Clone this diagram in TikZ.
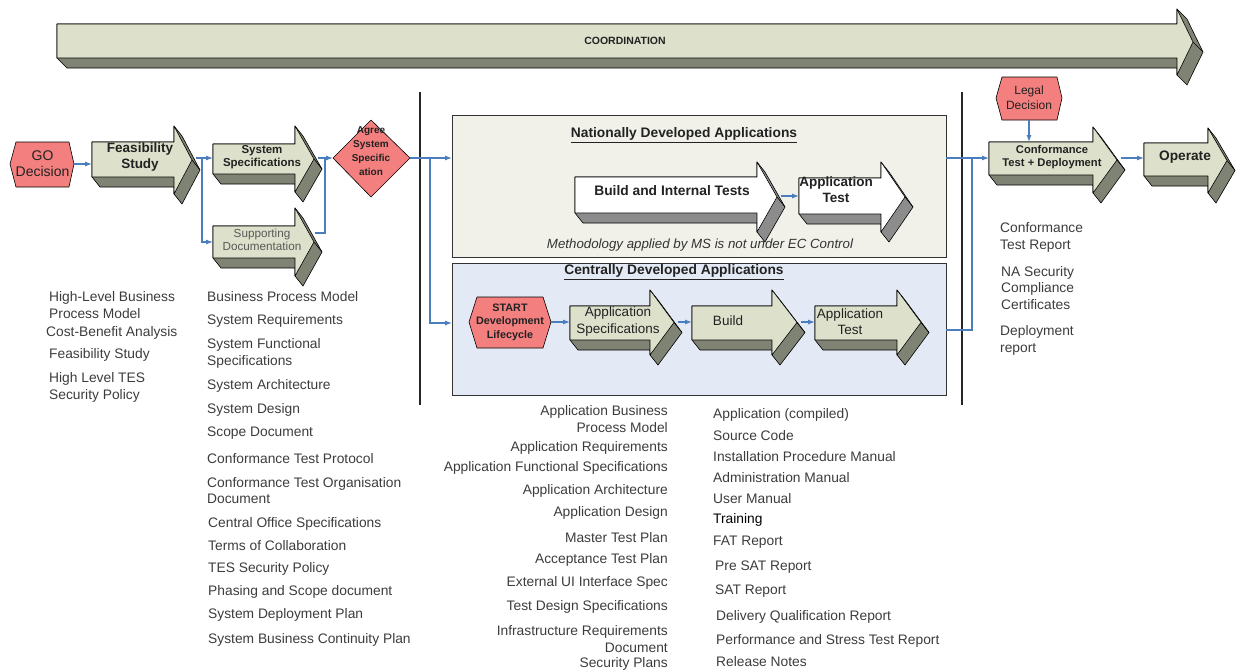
\documentclass[tikz,border=0pt]{standalone}
\usepackage{fontspec}
\setmainfont{Liberation Sans}
\usetikzlibrary{arrows.meta}
\definecolor{face}{HTML}{DDE1CB}
\definecolor{extr}{HTML}{7F8374}
\definecolor{extrgray}{HTML}{8C8C8C}
\definecolor{salmon}{HTML}{F47F7F}
\definecolor{connc}{HTML}{4A7EBF}
\definecolor{natfill}{HTML}{F1F1EA}
\definecolor{cenfill}{HTML}{E4EAF5}
\definecolor{listtext}{HTML}{3C3C3C}
\definecolor{inktext}{HTML}{222222}

\def\odx{8}
\def\ody{10}
\def\extcol{extr}
% #1 name, #2 x0, #3 yt, #4 yb, #5 xh, #6 yht, #7 xt, #8 yhb, #9 face colour
\newcommand{\tdarrow}[9]{%
  \pgfmathsetmacro{\tdym}{(#6+#8)/2}%
  \filldraw[fill=\extcol, draw=black, line width=0.6pt, line join=round]
    (#2,#3) -- (#5,#3) -- (#5,#6) -- ({#5+\odx},{#6+\ody}) -- ({#7+\odx},{\tdym+\ody})
    -- ({#5+\odx},{#8+\ody}) -- (#5,#8) -- (#5,{#4+\ody}) -- ({#2+\odx},{#4+\ody}) -- (#2,#4) -- cycle;
  \draw[line width=0.6pt] (#7,\tdym) -- ({#7+\odx},{\tdym+\ody});
  \filldraw[fill=#9, draw=black, line width=0.6pt, line join=round]
    (#2,#3) -- (#5,#3) -- (#5,#6) -- (#7,\tdym) -- (#5,#8) -- (#5,#4) -- (#2,#4) -- cycle;
  \coordinate (#1-in) at (#2,{(#3+#4)/2});
  \coordinate (#1-top) at ({(#2+#5)/2},#3);
  \coordinate (#1-tip) at ({#7+\odx/2},{\tdym-1});
}

\tikzset{
  conn/.style={draw=connc, line width=1.1pt, -{Latex[length=7pt,width=5pt]}},
  connplain/.style={draw=connc, line width=1.1pt},
  listL/.style={anchor=west, align=left, inner sep=0, text=listtext,
    font=\fontsize{13.8}{16.5}\selectfont},
  listR/.style={anchor=east, align=right, inner sep=0, text=listtext,
    font=\fontsize{13.8}{16.5}\selectfont},
  lbl/.style={align=center, inner sep=0, text=inktext},
  hexa/.style={fill=salmon, draw=black, line width=0.6pt, line join=round},
  divider/.style={draw=black!85, line width=1.8pt},
}

\begin{document}
\begin{tikzpicture}[x=1pt,y=-1pt]
\useasboundingbox (0,0) rectangle (1240,672);

% ---- Coordination arrow
\def\odx{10}\def\ody{10}
\tdarrow{coord}{57}{24}{58}{1177}{9}{1193}{75}{face}
\node[lbl, font=\fontsize{10.5}{12}\selectfont\bfseries] (coordtxt) at (625,41) {COORDINATION};
\def\odx{8}\def\ody{10}

% ---- dividers
\coordinate (dl1) at (420,92); \coordinate (dl2) at (420,405);
\coordinate (dr1) at (962,92); \coordinate (dr2) at (962,405);
\draw[divider] (dl1) -- (dl2);
\draw[divider] (dr1) -- (dr2);

% ---- GO decision
\filldraw[hexa] (10,164) -- (16,142) -- (69,142) -- (74,164) -- (69,187) -- (16,187) -- cycle;
\node[lbl, font=\fontsize{14}{16.5}\selectfont] (go) at (42.5,163.5) {GO\\Decision};
\coordinate (go-out) at (74,164);

% ---- Feasibility, system spec, supporting doc
\tdarrow{feas}{92}{142}{177}{174}{126}{192}{194}{face}
\node[lbl, font=\fontsize{13.5}{16.5}\selectfont\bfseries] (feastxt) at (140,157) {Feasibility\\Study};
\tdarrow{spec}{213}{144}{174}{295}{126}{314}{192}{face}
\node[lbl, font=\fontsize{11.5}{13}\selectfont\bfseries] (spectxt) at (262,157.5) {System\\Specifications};
\tdarrow{supp}{213}{226}{258}{295}{208}{314}{276}{face}
\node[lbl, text=black!65, font=\fontsize{11.7}{13.3}\selectfont] (supptxt) at (262,240) {Supporting\\Documentation};

% ---- Agree diamond
\filldraw[hexa] (333,158) -- (371,120) -- (410,158) -- (371,197) -- cycle;
\coordinate (agree-in) at (333,158);
\coordinate (agree-out) at (410,158);
\node[lbl, font=\fontsize{10}{14}\selectfont\bfseries] (agree) at (371,151) {Agree\\System\\Specific\\ation};

% ---- connectors left part
\coordinate (feasbr) at (202,158);
\coordinate (suppout) at (315,233);
\coordinate (specjoin) at (325,158);
\draw[conn] (go-out) -- (feas-in |- go-out);
\draw[conn] (feasbr -| feas-tip) -- (spec-in |- feasbr);
\draw[conn] (feasbr) |- (supp-in);
\draw[connplain] (suppout) -| (specjoin);
\draw[conn] (specjoin -| spec-tip) -- (agree-in);

% ---- National box
\node[draw=black!80, line width=1.1pt, fill=natfill, minimum width=494pt, minimum height=142pt, inner sep=0, anchor=north west] (nat) at (452,115) {};
\node[lbl, font=\fontsize{13.8}{16}\selectfont\bfseries] (nattitle) at (684,135) {\underline{Nationally Developed Applications}};
\def\extcol{extrgray}
\tdarrow{bit}{575}{177}{213}{757}{162}{777}{232}{white}
\node[lbl, font=\fontsize{13.8}{16}\selectfont\bfseries] (bittxt) at (672,191) {Build and Internal Tests};
\tdarrow{nat2}{799}{178}{214}{881}{162}{905}{232}{white}
\node[lbl, font=\fontsize{13.5}{16}\selectfont\bfseries] (nat2txt) at (836,190) {Application\\Test};
\def\extcol{extr}
\node[lbl, text=black!80, font=\fontsize{13.3}{16}\selectfont\itshape] (method) at (700,245) {Methodology applied by MS is not under EC Control};
\draw[conn] (bit-tip) -- (nat2-in |- bit-tip);

% ---- Central box
\node[draw=black!80, line width=1.1pt, fill=cenfill, minimum width=494pt, minimum height=132pt, inner sep=0, anchor=north west] (cen) at (452,263) {};
\node[lbl, font=\fontsize{13.8}{16}\selectfont\bfseries] (centitle) at (674,272) {\underline{Centrally Developed Applications}};
\filldraw[hexa] (469,322) -- (477,297) -- (543,297) -- (551,322) -- (543,348) -- (477,348) -- cycle;
\coordinate (start-out) at (551,322);
\node[lbl, font=\fontsize{10.8}{13.5}\selectfont\bfseries] (start) at (510,322) {START\\Development\\Lifecycle};
\tdarrow{aspec}{570}{306}{340}{650}{290}{674}{355}{face}
\node[lbl, font=\fontsize{13.5}{16.5}\selectfont] (aspectxt) at (618,321.5) {Application\\Specifications};
\tdarrow{build}{692}{306}{340}{772}{290}{797}{355}{face}
\node[lbl, font=\fontsize{13.5}{16.5}\selectfont] (buildtxt) at (728,321) {Build};
\tdarrow{ctest}{815}{306}{340}{897}{290}{921}{355}{face}
\node[lbl, font=\fontsize{13.5}{16.5}\selectfont] (ctesttxt) at (850,321.5) {Application\\Test};
\draw[conn] (start-out) -- (aspec-in |- start-out);
\draw[conn] (aspec-tip |- start-out) -- (build-in |- start-out);
\draw[conn] (build-tip |- start-out) -- (ctest-in |- start-out);

% ---- agree -> boxes
\coordinate (agreebr) at (430,158);
\coordinate (cenin) at (452,323);
\draw[conn] (agree-out) -- (nat.west |- agree-out);
\draw[conn] (agreebr) |- (cenin);

% ---- right part
\tdarrow{conf}{989}{142}{175}{1093}{127}{1117}{193}{face}
\node[lbl, font=\fontsize{11.2}{13}\selectfont\bfseries] (conftxt) at (1052,157.5) {Conformance\\Test + Deployment};
\tdarrow{oper}{1144}{143}{176}{1208}{128}{1227}{193}{face}
\node[lbl, font=\fontsize{13.7}{16}\selectfont\bfseries] (opertxt) at (1185,157) {Operate};
\filldraw[hexa] (996,98) -- (1002,77) -- (1057,77) -- (1062,98) -- (1057,120) -- (1002,120) -- cycle;
\coordinate (legal-out) at (1029,120);
\node[lbl, font=\fontsize{12}{15}\selectfont] (legal) at (1029,97.5) {Legal\\Decision};

\coordinate (natout) at (946,158);
\coordinate (cenout) at (946,330);
\coordinate (rjoin) at (972,158);
\draw[conn] (natout) -- (conf-in |- natout);
\draw[connplain] (cenout) -| (rjoin);
\draw[conn] (legal-out) -- (legal-out |- conf-top);
\draw[conn] (conf-tip |- natout) -- (oper-in |- natout);

% ---- lists
\node[listL] (l1) at (49,305) {High-Level Business\\Process Model};
\node[listL] (l2) at (46,333) {Cost-Benefit Analysis};
\node[listL] (l3) at (49,355) {Feasibility Study};
\node[listL] (l4) at (49,387.5) {High Level TES\\Security Policy};

\node[listL] (s1) at (207,297) {Business Process Model};
\node[listL] (s2) at (207,321) {System Requirements};
\node[listL] (s3) at (207,353.5) {System Functional\\Specifications};
\node[listL] (s4) at (207,386) {System Architecture};
\node[listL] (s5) at (207,409.5) {System Design};
\node[listL] (s6) at (207,433) {Scope Document};
\node[listL] (s7) at (207,458.5) {Conformance Test Protocol};
\node[listL] (s8) at (207,490.5) {Conformance Test Organisation\\Document};
\node[listL] (s9) at (208,523.5) {Central Office Specifications};
\node[listL] (s10) at (208,546) {Terms of Collaboration};
\node[listL] (s11) at (208,569) {TES Security Policy};
\node[listL] (s12) at (208,592) {Phasing and Scope document};
\node[listL] (s13) at (208,615) {System Deployment Plan};
\node[listL] (s14) at (208,640) {System Business Continuity Plan};

\node[listR] (a1) at (668,419) {Application Business\\Process Model};
\node[listR] (a2) at (668,448) {Application Requirements};
\node[listR] (a3) at (668,468) {Application Functional Specifications};
\node[listR] (a4) at (668,491) {Application Architecture};
\node[listR] (a5) at (668,513) {Application Design};
\node[listR] (a6) at (668,538) {Master Test Plan};
\node[listR] (a7) at (668,560) {Acceptance Test Plan};
\node[listR] (a8) at (668,583) {External UI Interface Spec};
\node[listR] (a9) at (668,607) {Test Design Specifications};
\node[listR] (a10) at (668,639) {Infrastructure Requirements\\Document};
\node[listR] (a11) at (668,664) {Security Plans};

\node[listL] (b1) at (713,415) {Application (compiled)};
\node[listL] (b2) at (713,436) {Source Code};
\node[listL] (b3) at (713,457) {Installation Procedure Manual};
\node[listL] (b4) at (713,478) {Administration Manual};
\node[listL] (b5) at (713,499) {User Manual};
\node[listL, text=black] (b6) at (713,520) {Training};
\node[listL] (b7) at (713,542) {FAT Report};
\node[listL] (b8) at (715,567) {Pre SAT Report};
\node[listL] (b9) at (715,591) {SAT Report};
\node[listL] (b10) at (716,617) {Delivery Qualification Report};
\node[listL] (b11) at (716,641) {Performance and Stress Test Report};
\node[listL] (b12) at (716,662) {Release Notes};

\node[listL] (c1) at (1000,237.5) {Conformance\\Test Report};
\node[listL] (c2) at (1001,288) {NA Security\\Compliance\\Certificates};
\node[listL] (c3) at (1000,340.5) {Deployment\\report};
\end{tikzpicture}
\end{document}
